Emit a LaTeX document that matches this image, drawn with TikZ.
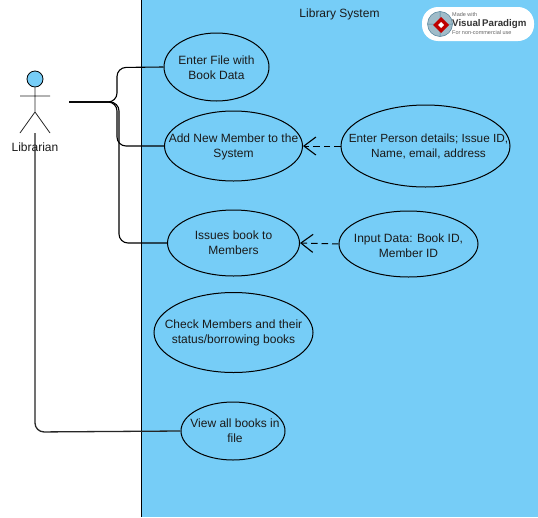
\documentclass[tikz,border=0pt]{standalone}
\usepackage{fontspec}
\setmainfont{Liberation Sans}
\usetikzlibrary{shapes.geometric,arrows.meta}
\definecolor{sysblue}{HTML}{76CDF7}
\definecolor{inkc}{HTML}{1A1A1A}
\tikzset{
  x=1pt,y=-1pt,
  usecase/.style={draw=black,line width=1pt,ellipse,inner sep=0pt,minimum width=#1},
  uctext/.style={align=center,font=\fontsize{12}{15}\selectfont,text=inkc,inner sep=0pt},
  assoc/.style={draw=black,line width=1.1pt,rounded corners=9pt},
  dep/.style={draw=black,line width=1pt,dash pattern=on 6.5pt off 4pt,-{Straight Barb[length=12pt,width=18pt,line width=1.1pt]}},
  stick/.style={draw=black!85,line width=.8pt},
}
\begin{document}
\begin{tikzpicture}
\useasboundingbox (0,0) rectangle (538,517);
\fill[white] (0,0) rectangle (538,517);
\fill[sysblue] (141,0) rectangle (538,517);
\draw[black,line width=1pt] (141,0) -- (141,517);
\node[font=\fontsize{12}{14}\selectfont,text=inkc] (title) at (339.5,14) {Library System};
% logo
\node[fill=white,rounded corners=16pt,minimum width=112pt,minimum height=34pt,inner sep=0pt] (logo) at (478,24) {};
\fill[white!60!sysblue!80!black] (440,24) circle (12.5);
\draw[sysblue!60!black,line width=.5pt] (440,24) circle (12.5) (427.5,24) -- (452.5,24) (440,11.5) -- (440,36.5);
\fill[red!75!black] (441,17) -- (449,25) -- (441,33) -- (433,25) -- cycle;
\fill[white] (441,22) -- (444,25) -- (441,28) -- (438,25) -- cycle;
\node[font=\fontsize{5.5}{6}\selectfont,text=black!60,anchor=west,inner sep=0pt] (vpa) at (452,15) {Made with};
\node[font=\fontsize{9.7}{10}\bfseries\selectfont,text=black!80,anchor=west,inner sep=0pt] (vpb) at (452,24) {Visual\,Paradigm};
\node[font=\fontsize{5.5}{6}\selectfont,text=black!60,anchor=west,inner sep=0pt] (vpc) at (452,33) {For non-commercial use};
% use cases
\node[usecase=105pt,minimum height=68pt] (enter) at (216.5,67) {};
\node[uctext] (enterT) at (216.5,67.5) {Enter File with\\Book Data};
\node[usecase=138pt,minimum height=70pt] (add) at (233.5,146) {};
\node[uctext] (addT) at (233.5,146.5) {Add New Member to the\\System};
\node[usecase=169pt,minimum height=82pt] (person) at (425.5,146) {};
\node[uctext,font=\fontsize{11.8}{15}\selectfont] (personT) at (428.5,146.5) {Enter Person details; Issue ID,\\Name, email, address};
\node[usecase=132pt,minimum height=66pt] (issues) at (233.5,243) {};
\node[uctext] (issuesT) at (233.5,243) {Issues book to\\Members};
\node[usecase=139pt,minimum height=66pt] (input) at (408.5,244) {};
\node[uctext] (inputT) at (408.5,246) {Input Data: Book ID,\\Member ID};
\node[usecase=159pt,minimum height=80pt] (check) at (233.5,332.5) {};
\node[uctext] (checkT) at (233.5,332.5) {Check Members and their\\status/borrowing books};
\node[usecase=104pt,minimum height=58pt] (view) at (233,431) {};
\node[uctext] (viewT) at (235,431) {View all books in\\file};
% actor
\node[draw=black,line width=.8pt,fill=sysblue,circle,minimum size=16pt,inner sep=0pt] (head) at (35,79) {};
\coordinate (hip) at (35,112);
\coordinate (feet) at (35,133);
\coordinate (from) at (69,102);
\draw[stick] (head.south) -- (hip) (20,96) -- (50,96) (20,133) -- (hip) -- (50,133);
\node[font=\fontsize{12}{14}\selectfont,text=inkc] (lib) at (35,147) {Librarian};
% connectors
\draw[assoc] (from) -- (117,102) -- (117,67.5) -- (enter.west);
\draw[assoc] (from) -- (117,102) -- (117,146) -- (add.west);
\draw[assoc] (from) -- (119,102) -- (119,243) -- (issues.west);
\draw[assoc,draw=black!85,line width=1.3pt] (feet) -- (35,432) -- (view.west);
\draw[dep] (person.west) -- (add.east);
\draw[dep] (input.west) -- (issues.east);
\end{tikzpicture}
\end{document}
